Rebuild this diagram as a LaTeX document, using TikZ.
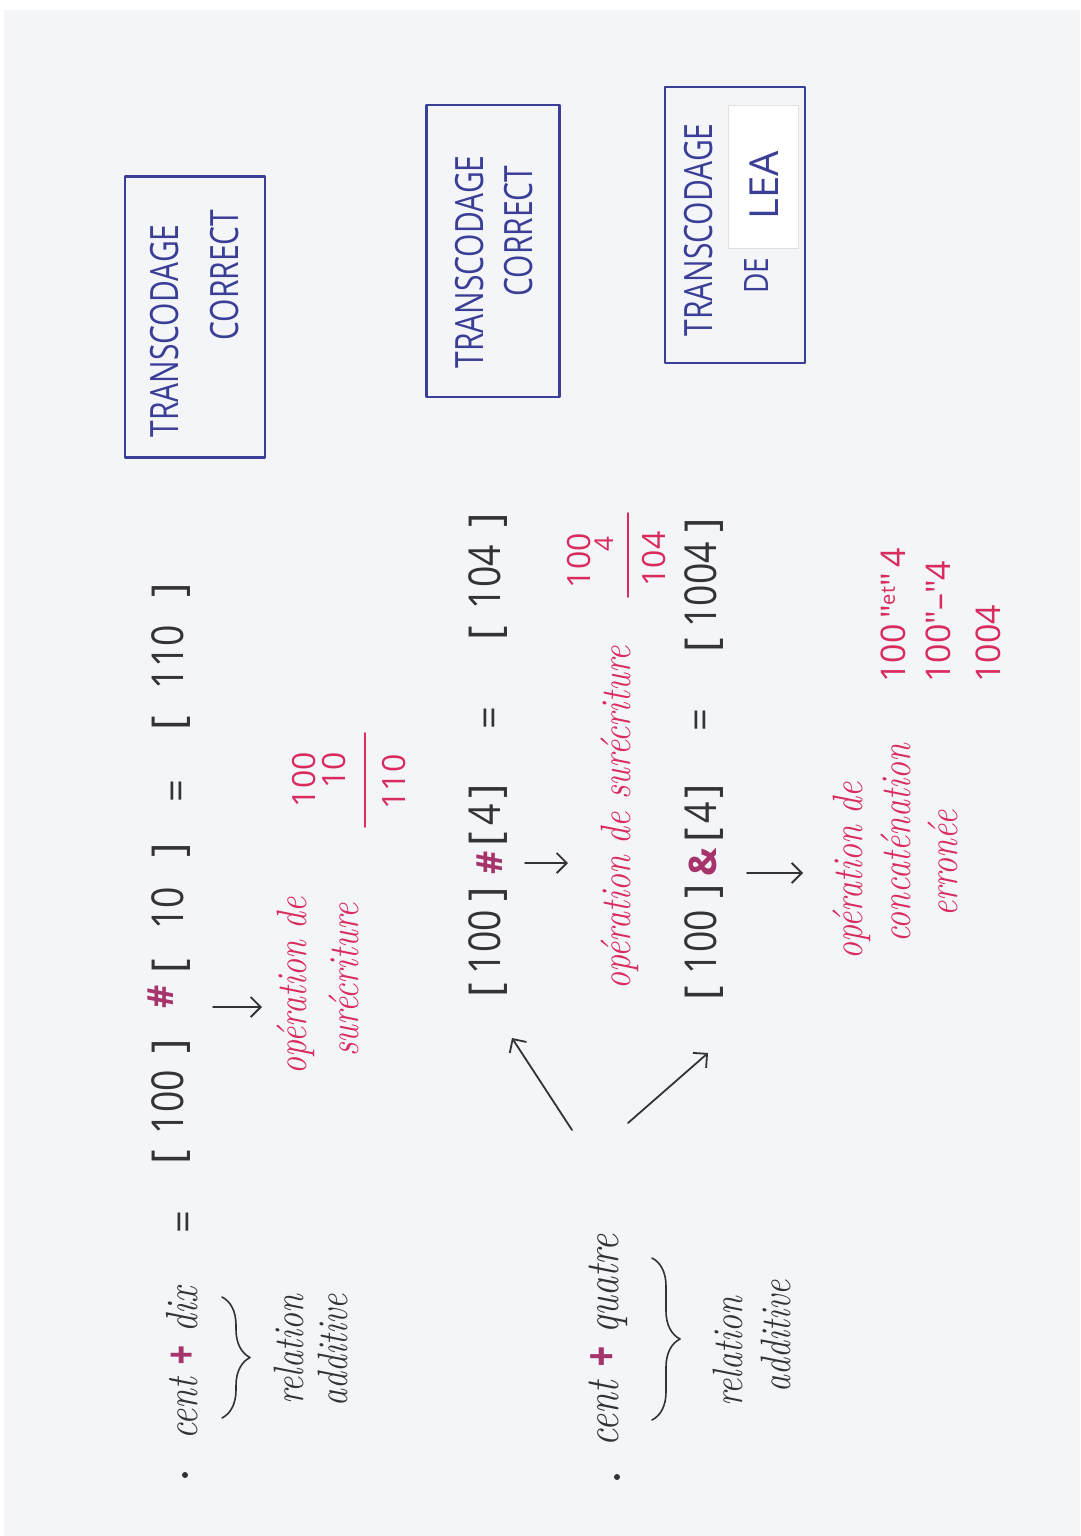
\documentclass[tikz,border=0pt]{standalone}
\usepackage{graphicx}
\usepackage{fontspec}
\newfontfamily\pr{Open Sans}
\usetikzlibrary{arrows.meta,decorations.pathreplacing}
\definecolor{paper}{HTML}{F3F5F8}
\definecolor{ink}{HTML}{333336}
\definecolor{redink}{HTML}{D92B5E}
\definecolor{mag}{HTML}{A6346B}
\definecolor{blueink}{HTML}{3B3E96}
\newcommand\grp[2]{\makebox[#1]{[\hfill\scalebox{0.85}[1]{#2}\hfill]}}
\newcommand\cv[1]{\scalebox{1}[1.25]{#1}}
\tikzset{
  prt/.style={rotate=90, inner sep=0pt, font=\pr\fontsize{44}{50}\selectfont, text=ink, anchor=base},
  sym/.style={rotate=90, inner sep=0pt, font=\pr\fontsize{40}{46}\selectfont, text=ink, anchor=center},
  hsym/.style={rotate=90, inner sep=0pt, font=\pr\bfseries\fontsize{36}{42}\selectfont, text=mag, anchor=center},
  curs/.style={rotate=90, inner sep=0pt, font=\rmfamily\itshape\fontsize{36}{40}\selectfont, text=ink, anchor=base west},
  rcurs/.style={rotate=90, inner sep=0pt, font=\rmfamily\itshape\fontsize{34}{40}\selectfont, text=redink, anchor=base west},
  rnum/.style={rotate=90, inner sep=0pt, font=\pr\fontsize{32}{36}\selectfont, text=redink},
  tbox/.style={draw=blueink, line width=2.4pt, rotate=90, inner sep=0pt},
  btxt/.style={rotate=90, inner sep=0pt, font=\pr\fontsize{30}{36}\selectfont, text=blueink, anchor=base},
  arr/.style={draw=ink, line width=1.8pt, -{Straight Barb[length=10pt,width=20pt]}},
  brc/.style={draw=ink, line width=1.6pt, decorate, decoration={brace, amplitude=28pt}},
}
\begin{document}
\begin{tikzpicture}[x=1pt,y=-1pt, line cap=round, line join=round]
\useasboundingbox (0,0) rectangle (1080,1536);
\fill[white] (0,0) rectangle (1080,1536);
\fill[paper] (4,10) rectangle (1080,1536);

% ---------- boxes ----------
\node[tbox, minimum width=281pt, minimum height=140pt] (b1) at (195,317) {};
\node[btxt] (t1a) at (178,331) {\scalebox{1}[1.3]{TRANSCODAGE}};
\node[btxt] (t1b) at (238,275) {\scalebox{1}[1.3]{CORRECT}};

\node[tbox, minimum width=292pt, minimum height=133pt] (b2) at (493,251) {};
\node[btxt] (t2a) at (483,262) {\scalebox{1}[1.3]{TRANSCODAGE}};
\node[btxt] (t2b) at (532,231) {\scalebox{1}[1.3]{CORRECT}};

\node[tbox, minimum width=276pt, minimum height=140pt] (b3) at (735,225) {};
\fill[white] (728,105) rectangle (798,248);
\draw[black!12, line width=0.6pt] (728,105) rectangle (798,248);
\node[btxt] (t3a) at (712,230) {\scalebox{1}[1.3]{TRANSCODAGE}};
\node[btxt, font=\pr\fontsize{28}{32}\selectfont] (t3b) at (768,276) {\scalebox{1}[1.2]{DE}};
\node[btxt, font=\pr\fontsize{40}{44}\selectfont] (t3c) at (778,185) {LEA};

% ---------- row 1 ----------
\fill[ink] (185,1475) circle (3);
\node[curs] (cd) at (197,1440) {\cv{cent {\pr\bfseries\color{mag}+} dix}};
\draw[brc] (222,1297) -- (222,1418);
\node[curs, font=\rmfamily\itshape\fontsize{34}{40}\selectfont] (rel1) at (303,1405) {\cv{relation}};
\node[curs, font=\rmfamily\itshape\fontsize{34}{40}\selectfont] (add1) at (347,1407) {\cv{additive}};
\node[sym] (eq0) at (188,1222) {=};
\node[prt] (g11) at (183,1102) {\grp{125pt}{100}};
\node[hsym] (h1) at (161,997) {\#};
\node[prt] (g12) at (183,908) {\grp{130pt}{10}};
\node[sym] (eq1) at (181,791) {=};
\node[prt] (g13) at (183,657) {\grp{147pt}{110}};

\coordinate (a1s) at (213,1007);
\coordinate (a1e) at (262,1007);
\draw[arr] (a1s) -- (a1e);
\node[rcurs] (op1a) at (306,1075) {\cv{opération de}};
\node[rcurs] (op1b) at (358,1057) {\cv{surécriture}};
\node[rnum, anchor=base east] (f1a) at (315,752) {100};
\node[rnum, anchor=base east] (f1b) at (345,752) {10};
\draw[redink, line width=1.8pt] (365,733) -- (365,827);
\node[rnum, anchor=base] (f1c) at (405,782) {110};

% ---------- row 2 ----------
\fill[ink] (617,1477) circle (3);
\node[curs, font=\rmfamily\itshape\fontsize{38}{42}\selectfont] (cq) at (618,1447) {\cv{cent {\pr\bfseries\color{mag}+} quatre}};
\draw[brc] (652,1258) -- (652,1420);
\node[curs, font=\rmfamily\itshape\fontsize{34}{40}\selectfont] (rel2) at (742,1407) {\cv{relation}};
\node[curs, font=\rmfamily\itshape\fontsize{34}{40}\selectfont] (add2) at (790,1393) {\cv{additive}};

\coordinate (q1s) at (572,1130);
\coordinate (q1e) at (512,1038);
\coordinate (q2s) at (628,1123);
\coordinate (q2e) at (708,1053);
\draw[arr] (q1s) -- (q1e);
\draw[arr] (q2s) -- (q2e);

\node[prt] (g21) at (500,942) {\grp{110pt}{100}};
\node[hsym] (h2) at (490,863) {\#};
\node[prt] (g22) at (500,815) {\grp{62pt}{4}};
\node[sym] (eq2) at (494,718) {=};
\node[prt] (g23) at (500,577) {\grp{127pt}{104}};

\coordinate (a2s) at (525,863);
\coordinate (a2e) at (568,863);
\draw[arr] (a2s) -- (a2e);
\node[rcurs] (op2) at (630,990) {\cv{opération de surécriture}};
\node[rnum, anchor=base east] (f2a) at (590,533) {100};
\node[rnum, anchor=base east, font=\pr\fontsize{26}{30}\selectfont] (f2b) at (613,536) {4};
\draw[redink, line width=1.8pt] (628,513) -- (628,597);
\node[rnum, anchor=base] (f2c) at (665,559) {104};

% ---------- row 3 ----------
\node[prt] (g31) at (716,942) {\grp{116pt}{100}};
\node[hsym, font=\pr\bfseries\fontsize{38}{44}\selectfont] (amp) at (703,862) {\&};
\node[prt] (g32) at (716,813) {\grp{58pt}{4}};
\node[sym] (eq3) at (705,720) {=};
\node[prt] (g33) at (716,585) {\grp{134pt}{1004}};

\coordinate (a3s) at (747,873);
\coordinate (a3e) at (803,873);
\draw[arr] (a3s) -- (a3e);
\node[rcurs] (op3a) at (862,960) {\cv{opération de}};
\node[rcurs] (op3b) at (910,943) {\cv{concaténation}};
\node[rcurs] (op3c) at (957,917) {\cv{erronée}};

\node[rnum, anchor=base west, font=\pr\fontsize{34}{38}\selectfont] (r1) at (905,683) {100\,"\raisebox{0.3em}{\fontsize{20}{22}\selectfont et}"\,4};
\node[rnum, anchor=base west, font=\pr\fontsize{34}{38}\selectfont] (r2) at (950,683) {100"–"4};
\node[rnum, anchor=base west, font=\pr\fontsize{34}{38}\selectfont] (r3) at (1000,683) {1004};
\end{tikzpicture}
\end{document}
